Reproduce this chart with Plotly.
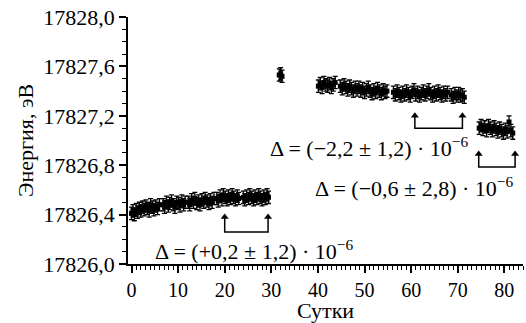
import plotly.graph_objects as go

# ---------------- data ----------------
seg1_days = [0.0, 0.3, 0.6, 1.0, 1.3, 1.7, 2.0, 2.4, 2.7, 3.1, 3.4, 3.8, 4.1, 4.5, 4.8, 5.2, 5.6, 6.0,
             6.8, 7.1, 7.5, 7.9, 8.2, 8.6, 9.0, 9.3, 9.7, 10.1, 10.4, 10.8, 11.2, 11.5,
             12.2, 12.5, 12.9, 13.3, 13.6, 14.0, 14.4, 14.7, 15.1, 15.5, 15.8, 16.2, 16.6, 16.9, 17.3, 17.7,
             18.3, 18.6, 19.0, 19.4, 19.7, 20.1, 20.5, 20.8, 21.2, 21.6, 21.9, 22.3, 22.7, 23.0,
             24.0, 24.3, 24.7, 25.1, 25.4, 25.8, 26.2, 26.5, 26.9, 27.3, 27.6, 28.0, 28.4, 28.7, 29.1, 29.4]
seg1_vals = [17826.41, 17826.43, 17826.40, 17826.44, 17826.42, 17826.45, 17826.43, 17826.46, 17826.44,
             17826.47, 17826.45, 17826.43, 17826.48, 17826.46, 17826.44, 17826.47, 17826.45, 17826.48,
             17826.48, 17826.46, 17826.50, 17826.47, 17826.49, 17826.51, 17826.48, 17826.46, 17826.50,
             17826.49, 17826.47, 17826.51, 17826.48, 17826.50,
             17826.50, 17826.48, 17826.52, 17826.50, 17826.53, 17826.49, 17826.51, 17826.48, 17826.52,
             17826.50, 17826.53, 17826.51, 17826.49, 17826.52, 17826.50, 17826.53,
             17826.53, 17826.51, 17826.55, 17826.52, 17826.56, 17826.54, 17826.52, 17826.55, 17826.53,
             17826.56, 17826.54, 17826.52, 17826.55, 17826.53,
             17826.54, 17826.52, 17826.55, 17826.53, 17826.56, 17826.54, 17826.52, 17826.55, 17826.53,
             17826.56, 17826.54, 17826.52, 17826.55, 17826.53, 17826.56, 17826.54]

seg2_days = [31.7, 32.0, 32.3]
seg2_vals = [17827.53, 17827.54, 17827.52]

seg3_days = [40.1, 40.5, 40.9, 41.3, 41.7, 42.1, 42.5, 42.9, 43.3, 43.7,
             44.8, 45.2, 45.6, 46.0, 46.4, 46.8, 47.2, 47.6, 48.0, 48.4,
             48.8, 49.2, 49.6, 50.0, 50.4, 50.8, 51.2, 51.6, 52.0, 52.4, 52.8, 53.2, 53.6, 54.0, 54.4, 54.8,
             56.2, 56.6, 57.0, 57.4, 57.8, 58.2, 58.6, 59.0, 59.4, 59.8, 60.2, 60.6, 61.0, 61.4, 61.8,
             62.2, 62.6, 63.0, 63.4, 63.8, 64.2, 64.6, 65.0, 65.4, 65.8, 66.2, 66.6, 67.0, 67.4, 67.8,
             68.6, 69.0, 69.4, 69.8, 70.2, 70.6, 71.0, 71.4]
seg3_vals = [17827.44, 17827.46, 17827.43, 17827.47, 17827.45, 17827.44, 17827.46, 17827.43, 17827.45, 17827.47,
             17827.44, 17827.42, 17827.45, 17827.43, 17827.41, 17827.44, 17827.42, 17827.40, 17827.43, 17827.41,
             17827.43, 17827.40, 17827.42, 17827.39, 17827.41, 17827.43, 17827.40, 17827.38, 17827.41, 17827.39,
             17827.42, 17827.40, 17827.38, 17827.41, 17827.39, 17827.40,
             17827.39, 17827.37, 17827.40, 17827.38, 17827.36, 17827.39, 17827.37, 17827.40, 17827.38, 17827.36,
             17827.39, 17827.41, 17827.37, 17827.39, 17827.36, 17827.38, 17827.40, 17827.37, 17827.39, 17827.41,
             17827.38, 17827.36, 17827.39, 17827.37, 17827.40, 17827.38, 17827.36, 17827.39, 17827.37, 17827.39,
             17827.37, 17827.35, 17827.38, 17827.36, 17827.38, 17827.36, 17827.37, 17827.35]

seg4_days = [74.6, 75.0, 75.4, 75.8, 76.2, 76.6, 77.0, 77.4, 77.8, 78.2, 78.6, 79.0, 79.4, 79.8, 80.2, 80.6,
             81.0, 81.4, 81.8]
seg4_vals = [17827.10, 17827.12, 17827.09, 17827.11, 17827.08, 17827.12, 17827.10, 17827.08, 17827.11,
             17827.09, 17827.07, 17827.10, 17827.08, 17827.06, 17827.09, 17827.07, 17827.15, 17827.08, 17827.06]

ERR_EV = 0.05

x_tick_vals = [0, 10, 20, 30, 40, 50, 60, 70, 80]
y_tick_vals = [17826.0, 17826.4, 17826.8, 17827.2, 17827.6, 17828.0]
y_tick_text = ["17826,0", "17826,4", "17826,8", "17827,2", "17827,6", "17828,0"]

# compared intervals: (day_start, day_end)
interval_1 = (20.0, 29.3)
interval_2 = (60.8, 71.0)
interval_3 = (74.5, 82.3)
labels = ["Δ = (+0,2 ± 1,2) · 10<sup>−6</sup>",
          "Δ = (−2,2 ± 1,2) · 10<sup>−6</sup>",
          "Δ = (−0,6 ± 2,8) · 10<sup>−6</sup>"]

FONT = "Liberation Serif"

# ---------------- figure ----------------
fig = go.Figure()
for dx, dy in [(seg1_days, seg1_vals), (seg2_days, seg2_vals), (seg3_days, seg3_vals), (seg4_days, seg4_vals)]:
    fig.add_trace(go.Scatter(
        x=dx, y=dy, mode="markers",
        marker=dict(symbol="square", size=5, color="black"),
        error_y=dict(type="constant", value=ERR_EV, color="black", thickness=1.3, width=2.5),
        hoverinfo="skip"))

# brackets with arrows marking the compared intervals
brackets = [(interval_1, 17826.38, 17826.26), (interval_2, 17827.20, 17827.10), (interval_3, 17826.89, 17826.785)]
for (x0, x1), top, bot in brackets:
    fig.add_trace(go.Scatter(x=[x0, x0, x1, x1], y=[top, bot, bot, top], mode="lines",
                             line=dict(color="black", width=1.5), hoverinfo="skip"))
    fig.add_trace(go.Scatter(x=[x0, x1], y=[top, top], mode="markers",
                             marker=dict(symbol="triangle-up", size=7, color="black"), hoverinfo="skip"))

annotations = []
text_pos = [(26.3, 17826.115), (50.9, 17826.945), (60.7, 17826.62)]
for (tx, ty), lab in zip(text_pos, labels):
    annotations.append(dict(x=tx, y=ty, xref="x", yref="y", text=lab, showarrow=False,
                            xanchor="center", yanchor="middle",
                            font=dict(family=FONT, size=22, color="black")))

fig.update_layout(
    width=526, height=323,
    margin=dict(l=128, r=3, t=17, b=59),
    plot_bgcolor="white", paper_bgcolor="white",
    showlegend=False,
    annotations=annotations,
)
fig.update_xaxes(
    range=[-0.75, 84], showline=True, linecolor="black", linewidth=1.5, mirror=False,
    showgrid=False, zeroline=False,
    tickmode="array", tickvals=x_tick_vals, ticks="outside", ticklen=7, tickwidth=1.5, tickcolor="black",
    minor=dict(tickmode="linear", tick0=0, dtick=1, ticks="outside", ticklen=4, tickwidth=1, tickcolor="black"),
    title=dict(text="Сутки", standoff=3, font=dict(family=FONT, size=22, color="black")),
    tickfont=dict(family=FONT, size=20, color="black"),
    automargin=False,
)
fig.update_yaxes(
    range=[17826.0, 17828.0], showline=True, linecolor="black", linewidth=1.5,
    showgrid=False, zeroline=False,
    tickmode="array", tickvals=y_tick_vals, ticktext=y_tick_text,
    ticks="outside", ticklen=7, tickwidth=1.5, tickcolor="black",
    minor=dict(tickmode="linear", tick0=17826.0, dtick=0.1, ticks="outside", ticklen=4, tickwidth=1, tickcolor="black"),
    title=dict(text="Энергия, эВ", standoff=4, font=dict(family=FONT, size=22, color="black")),
    tickfont=dict(family=FONT, size=22, color="black"),
    automargin=False,
)

fig.write_html("out.html", config={"displayModeBar": False},
               post_script="document.body.style.margin='0';document.body.style.overflow='hidden';")
